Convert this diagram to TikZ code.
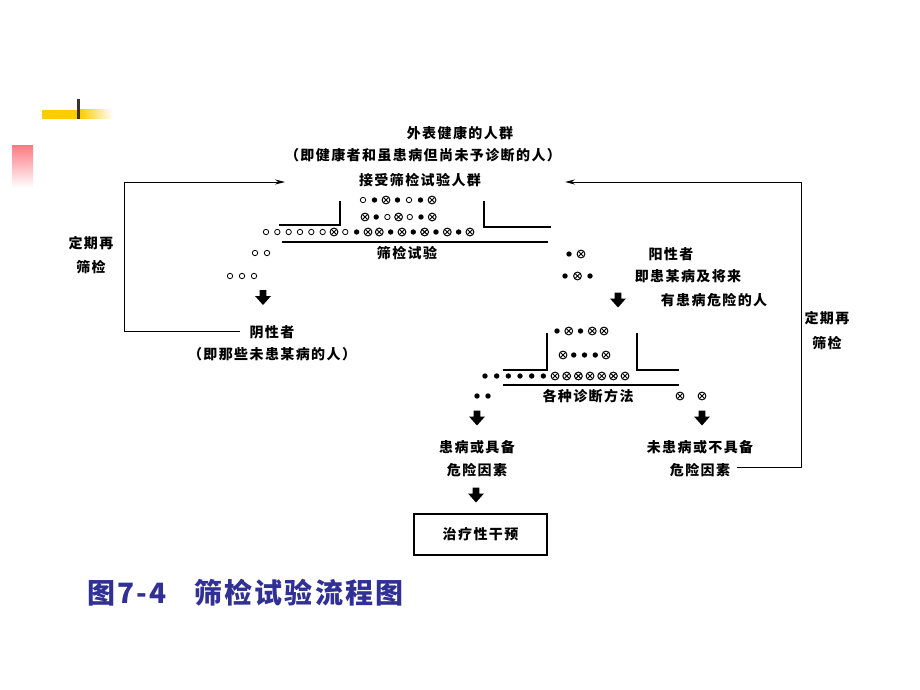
\documentclass[tikz,border=0pt]{standalone}
\usepackage{fontspec}
\usetikzlibrary{arrows.meta,calc}
\newfontfamily\cjkfont[LetterSpace=10]{Noto Sans CJK SC}
\newfontfamily\titlefont[LetterSpace=8]{Noto Sans CJK SC}
\newcommand\lblfont{\cjkfont\bfseries\fontsize{14}{16}\selectfont}
\definecolor{titleblue}{RGB}{48,48,150}
\definecolor{baryellow}{RGB}{255,204,0}
\definecolor{barpink}{RGB}{255,120,130}
\newcommand\dotitem[3]{%
  \if#1o\draw[line width=0.8pt] (#2,#3) circle (2.7pt);\fi
  \if#1f\fill (#2,#3) circle (2.7pt);\fi
  \if#1x\begin{scope}[shift={(#2,#3)}]
    \draw[line width=1pt] (0,0) circle (3.9pt);
    \draw[line width=0.9pt] (-2.4pt,-2.4pt) -- (2.4pt,2.4pt) (-2.4pt,2.4pt) -- (2.4pt,-2.4pt);
  \end{scope}\fi}
\newcommand\dotrow[4]{%
  \foreach \t [count=\i from 0] in {#4} {%
    \pgfmathsetmacro\xx{#1+\i*#3}%
    \dotitem{\t}{\xx}{#2}}}
\tikzset{
  lbl/.style={font=\lblfont, inner sep=0pt},
  tray/.style={line width=1.4pt},
  loopline/.style={line width=1pt},
  arr/.style={-{Stealth[length=10pt,width=5pt]}},
  blk/.pic={\fill (-3.3pt,7.5pt) -- (3.3pt,7.5pt) -- (3.3pt,1.5pt) -- (8pt,1.5pt) -- (0,-7.5pt) -- (-8pt,1.5pt) -- (-3.3pt,1.5pt) -- cycle;},
  resultbox/.style={draw, line width=1.1pt, minimum width=133pt, minimum height=41pt, inner sep=0pt, font=\lblfont},
  titletext/.style={anchor=west, inner sep=0pt, text=titleblue, font=\titlefont\bfseries\fontsize{28}{30}\selectfont}
}
\begin{document}
\begin{tikzpicture}[x=1pt,y=-1pt]
\useasboundingbox[fill=white] (0,0) rectangle (920,690);
% decorative bars
\fill[baryellow] (42,110) rectangle (80,119);
\shade[left color=baryellow, right color=white] (80,110) rectangle (113,119);
\fill[black!80] (77,99) rectangle (80,119);
\shade[top color=barpink, bottom color=white] (12,145) rectangle (33,188);

% top texts
\node[lbl] (t1) at (460,133) {外表健康的人群};
\node[lbl] (t2) at (423,155) {（即健康者和虽患病但尚未予诊断的人）};
\node[lbl] (t3) at (420,180) {接受筛检试验人群};

% tray 1
\draw[tray] (279,225) -- (340,225) -- (340,201);
\draw[tray] (484,201) -- (484,227) -- (551,227);
\draw[tray] (282,242) -- (548,242);
\dotrow{363}{200}{11.5}{o,f,x,f,o,f,x}
\dotrow{365}{217}{11.2}{x,f,o,x,o,f,x}
\dotrow{266}{232}{11.33}{o,o,o,o,o,o,x,o,f,x,x,f,x,f,x,f,x,f,x}
\node[lbl] (t4) at (407,253) {筛检试验};
\dotrow{255}{253}{12}{o,o}
\dotrow{230}{276}{12}{o,o,o}
\dotrow{569}{254}{12}{f,x}
\dotrow{565}{276}{12.5}{f,x,f}
\pic at (263,297.5) {blk};
\pic at (618,300) {blk};

% negative
\node[lbl] (neg1) at (272,332) {阴性者};
\node[lbl] (neg2) at (272,354) {（即那些未患某病的人）};
% positive
\node[lbl] (pos1) at (671,254) {阳性者};
\node[lbl] (pos2) at (688,276) {即患某病及将来};
\node[lbl] (pos3) at (714,300) {有患病危险的人};

% tray 2
\dotrow{557}{331}{11.75}{f,x,f,x,x}
\dotrow{563}{355}{10.75}{x,f,f,f,x}
\draw[tray] (503,370) -- (547,370) -- (547,333);
\draw[tray] (637,333) -- (637,370) -- (679,370);
\dotrow{485}{376}{11.67}{f,f,f,f,f,f,x,x,x,x,x,x,x}
\draw[tray] (503,385) -- (679,385);
\node[lbl] (t5) at (588,396) {各种诊断方法};
\dotrow{477}{396}{11}{f,f}
\dotrow{680}{396}{22}{x,x}
\pic at (477,418) {blk};
\pic at (702,418) {blk};

\node[lbl] (a1) at (477,447) {患病或具备};
\node[lbl] (a2) at (477,470) {危险因素};
\node[lbl] (b1) at (700,447) {未患病或不具备};
\node[lbl] (b2) at (700,470) {危险因素};
\pic at (476,495) {blk};
\node[resultbox] (box) at (480.5,534.5) {治疗性干预};

% side labels
\node[lbl] (l1) at (91,243) {定期再};
\node[lbl] (l2) at (91,267) {筛检};
\node[lbl] (r1) at (827,318) {定期再};
\node[lbl] (r2) at (827,343) {筛检};

% loops
\coordinate (Lstart) at (240,331);
\coordinate (Lc1) at (124,331);
\coordinate (Lc2) at (124,182);
\coordinate (Ltip) at (285,182);
\draw[loopline,arr] (Lstart) -- (Lc1) -- (Lc2) -- (Ltip);
\coordinate (Rstart) at (737,467);
\coordinate (Rc1) at (801,467);
\coordinate (Rc2) at (801,182);
\coordinate (Rtip) at (565,182);
\draw[loopline,arr] (Rstart) -- (Rc1) -- (Rc2) -- (Rtip);

% title
\node[titletext] (title1) at (87,593) {图7-4};
\node[titletext] (title2) at (194,593) {筛检试验流程图};
\end{tikzpicture}
\end{document}
